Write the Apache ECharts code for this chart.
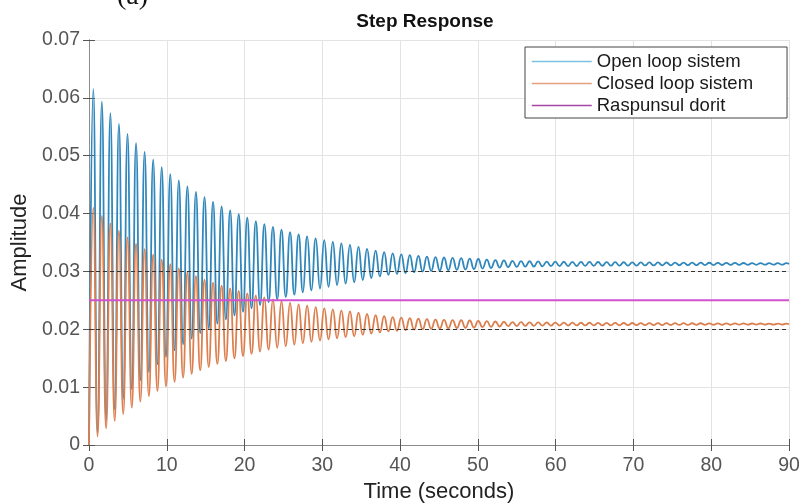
<!DOCTYPE html>
<html>
<head>
<meta charset="utf-8">
<script src="https://cdn.jsdelivr.net/npm/echarts@6/dist/echarts.min.js"></script>
<style>
html,body{margin:0;padding:0;background:#fff;}
#chart{width:802px;height:504px;}
</style>
</head>
<body>
<div id="chart"></div>
<script>
var timeSec = [0,
0.55,1.1,1.65,2.2,2.75,3.3,3.85,4.4,4.95,5.5,
6.05,6.6,7.15,7.7,8.25,8.8,9.35,9.9,10.45,11,
11.55,12.1,12.65,13.2,13.75,14.3,14.85,15.4,15.95,16.5,
17.05,17.6,18.15,18.7,19.25,19.8,20.35,20.9,21.45,22,
22.55,23.1,23.65,24.2,24.75,25.3,25.85,26.4,26.95,27.5,
28.05,28.6,29.15,29.7,30.25,30.8,31.35,31.9,32.45,33,
33.55,34.1,34.65,35.2,35.75,36.3,36.85,37.4,37.95,38.5,
39.05,39.6,40.15,40.7,41.25,41.8,42.35,42.9,43.45,44,
44.55,45.1,45.65,46.2,46.75,47.3,47.85,48.4,48.95,49.5,
50.05,50.6,51.15,51.7,52.25,52.8,53.35,53.9,54.45,55,
55.55,56.1,56.65,57.2,57.75,58.3,58.85,59.4,59.95,60.5,
61.05,61.6,62.15,62.7,63.25,63.8,64.35,64.9,65.45,66,
66.55,67.1,67.65,68.2,68.75,69.3,69.85,70.4,70.95,71.5,
72.05,72.6,73.15,73.7,74.25,74.8,75.35,75.9,76.45,77,
77.55,78.1,78.65,79.2,79.75,80.3,80.85,81.4,81.95,82.5,
83.05,83.6,84.15,84.7,85.25,85.8,86.35,86.9,87.45,88,
88.55,89.1,89.65,
90];

// Open loop sistem: amplitude at each time above
var openLoop = [0,
0.06150,0.00220,0.05935,0.00427,0.05735,0.00620,0.05549,0.00799,0.05377,0.00965,
0.05217,0.01119,0.05068,0.01262,0.04930,0.01396,0.04802,0.01519,0.04682,0.01634,
0.04572,0.01741,0.04469,0.01840,0.04373,0.01932,0.04285,0.02017,0.04202,0.02097,
0.04126,0.02170,0.04055,0.02239,0.03989,0.02302,0.03928,0.02361,0.03871,0.02416,
0.03818,0.02467,0.03769,0.02514,0.03723,0.02558,0.03681,0.02599,0.03642,0.02637,
0.03605,0.02672,0.03571,0.02705,0.03540,0.02735,0.03511,0.02763,0.03484,0.02789,
0.03458,0.02814,0.03426,0.02852,0.03391,0.02885,0.03360,0.02914,0.03332,0.02940,
0.03311,0.02957,0.03295,0.02972,0.03281,0.02986,0.03268,0.02998,0.03256,0.03010,
0.03247,0.03016,0.03241,0.03022,0.03235,0.03028,0.03229,0.03034,0.03223,0.03040,
0.03215,0.03050,0.03205,0.03059,0.03197,0.03067,0.03190,0.03074,0.03183,0.03080,
0.03179,0.03083,0.03176,0.03085,0.03174,0.03088,0.03171,0.03090,0.03169,0.03092,
0.03167,0.03093,0.03166,0.03094,0.03165,0.03096,0.03164,0.03097,0.03163,0.03098,
0.03161,0.03099,0.03160,0.03100,0.03159,0.03101,0.03158,0.03102,0.03157,0.03103,
0.03156,0.03104,0.03155,0.03105,0.03154,0.03106,0.03153,0.03107,0.03152,0.03108,
0.03151,0.03109,0.03151,0.03110,0.03150,0.03110,0.03149,0.03111,0.03148,0.03112,
0.03147,0.03113,0.03146,0.03114,0.03145,0.03115,0.03145,0.03116,0.03144,0.03117,
0.03143,0.03118,0.03142,
0.03130];

// Closed loop sistem: amplitude at each time above
var closedLoop = [0,
0.04104,0.00149,0.03961,0.00287,0.03828,0.00416,0.03703,0.00535,0.03589,0.00646,
0.03482,0.00749,0.03383,0.00844,0.03291,0.00933,0.03205,0.01015,0.03125,0.01092,
0.03052,0.01164,0.02983,0.01230,0.02919,0.01291,0.02860,0.01348,0.02805,0.01401,
0.02754,0.01450,0.02707,0.01496,0.02663,0.01538,0.02622,0.01577,0.02584,0.01614,
0.02549,0.01648,0.02516,0.01679,0.02486,0.01708,0.02458,0.01736,0.02432,0.01761,
0.02407,0.01785,0.02384,0.01807,0.02363,0.01827,0.02344,0.01845,0.02326,0.01863,
0.02309,0.01879,0.02287,0.01905,0.02264,0.01927,0.02243,0.01946,0.02225,0.01963,
0.02211,0.01975,0.02200,0.01985,0.02191,0.01994,0.02182,0.02002,0.02174,0.02010,
0.02168,0.02014,0.02164,0.02018,0.02160,0.02022,0.02156,0.02026,0.02152,0.02030,
0.02147,0.02037,0.02140,0.02043,0.02135,0.02048,0.02130,0.02053,0.02125,0.02057,
0.02123,0.02059,0.02121,0.02060,0.02119,0.02062,0.02117,0.02063,0.02116,0.02065,
0.02115,0.02065,0.02114,0.02066,0.02113,0.02067,0.02113,0.02068,0.02112,0.02069,
0.02111,0.02069,0.02110,0.02070,0.02109,0.02071,0.02109,0.02071,0.02108,0.02072,
0.02107,0.02073,0.02107,0.02073,0.02106,0.02074,0.02105,0.02075,0.02105,0.02075,
0.02104,0.02076,0.02104,0.02077,0.02103,0.02077,0.02103,0.02077,0.02102,0.02078,
0.02101,0.02079,0.02101,0.02079,0.02100,0.02080,0.02100,0.02081,0.02099,0.02081,
0.02099,0.02082,0.02098,
0.02090];

// Raspunsul dorit (desired response)
var desiredTime = [0, 90];
var desired = [0.025, 0.025];

// Steady-state (dotted) reference levels
var openSteady = 0.0313;
var closedSteady = 0.0209;

var seriesNames = ['Open loop sistem', 'Closed loop sistem', 'Raspunsul dorit'];
var yTickLabels = ['0', '0.01', '0.02', '0.03', '0.04', '0.05', '0.06', '0.07'];

function pairs(xs, ys) { return xs.map(function (x, i) { return [x, ys[i]]; }); }

var FONT = '"Liberation Sans", Arial, Helvetica, sans-serif';
var chart = echarts.init(document.getElementById('chart'), null, {renderer: 'canvas'});

var axisLineStyle = {color: '#8c8c8c', width: 1};
var tickStyle = {show: true, inside: true, length: 6, lineStyle: {color: '#555', width: 1}};
var hiddenSymbol = {opacity: 0};

chart.setOption({
  animation: false,
  backgroundColor: '#ffffff',
  title: {
    text: 'Step Response',
    left: 420, top: 7,
    textAlign: 'center',
    textStyle: {fontFamily: FONT, fontSize: 19, fontWeight: 'bold', color: '#111'}
  },
  graphic: [{
    type: 'text', left: 117, top: -17,
    style: {text: '(a)', font: '28px "Liberation Serif", "Times New Roman", serif', fill: '#111'}
  }],
  legend: {
    orient: 'vertical',
    left: 525, top: 47,
    padding: [5, 34, 3, 6],
    itemWidth: 60, itemHeight: 14, itemGap: 3,
    backgroundColor: '#fff',
    borderColor: '#444', borderWidth: 1,
    itemStyle: hiddenSymbol,
    textStyle: {fontFamily: FONT, fontSize: 18.5, color: '#1a1a1a'},
    data: [
      {name: seriesNames[0], itemStyle: hiddenSymbol, lineStyle: {color: '#7cc1e2', width: 1.5}},
      {name: seriesNames[1], itemStyle: hiddenSymbol, lineStyle: {color: '#e5a17f', width: 1.5}},
      {name: seriesNames[2], itemStyle: hiddenSymbol, lineStyle: {color: '#a448a4', width: 1.5}}
    ]
  },
  grid: {left: 89, right: 13, top: 40, bottom: 59, containLabel: false, outerBoundsMode: 'none'},
  xAxis: [{
    type: 'value', min: 0, max: 90, interval: 10, position: 'bottom',
    name: 'Time (seconds)', nameLocation: 'middle', nameGap: 33,
    nameTextStyle: {fontFamily: FONT, fontSize: 22, color: '#222'},
    axisLine: {show: true, lineStyle: axisLineStyle},
    axisTick: tickStyle,
    axisLabel: {fontFamily: FONT, fontSize: 19.5, color: '#555', margin: 11},
    splitLine: {show: true, lineStyle: {color: '#e3e3e3', width: 1}}
  }, {
    type: 'value', min: 0, max: 90, interval: 10, position: 'top',
    axisLine: {show: true, lineStyle: axisLineStyle},
    axisTick: tickStyle,
    axisLabel: {show: false},
    splitLine: {show: false}
  }],
  yAxis: [{
    type: 'value', min: 0, max: 0.07, interval: 0.01, position: 'left',
    name: 'Amplitude', nameLocation: 'middle', nameGap: 52,
    nameTextStyle: {fontFamily: FONT, fontSize: 22, color: '#222'},
    axisLine: {show: true, lineStyle: axisLineStyle},
    axisTick: tickStyle,
    axisLabel: {fontFamily: FONT, fontSize: 19.5, color: '#555', margin: 9,
      formatter: function (v) { return yTickLabels[Math.round(v * 100)]; }},
    splitLine: {show: true, lineStyle: {color: '#e3e3e3', width: 1}}
  }, {
    type: 'value', min: 0, max: 0.07, interval: 0.01, position: 'right',
    axisLine: {show: true, lineStyle: axisLineStyle},
    axisTick: tickStyle,
    axisLabel: {show: false},
    splitLine: {show: false}
  }],
  series: [{
    name: seriesNames[0], type: 'line', xAxisIndex: 0, yAxisIndex: 0,
    data: pairs(timeSec, openLoop),
    symbol: 'none', smooth: 0.5,
    lineStyle: {color: '#2f87bb', width: 1.8},
    itemStyle: {color: '#2f87bb'},
    markLine: {
      silent: true, symbol: 'none', label: {show: false},
      lineStyle: {color: '#333', type: [4, 3], width: 1},
      data: [{yAxis: openSteady}]
    },
    z: 2
  }, {
    name: seriesNames[1], type: 'line', xAxisIndex: 0, yAxisIndex: 0,
    data: pairs(timeSec, closedLoop),
    symbol: 'none', smooth: 0.5,
    lineStyle: {color: '#dc7f4f', width: 1.8},
    itemStyle: {color: '#dc7f4f'},
    markLine: {
      silent: true, symbol: 'none', label: {show: false},
      lineStyle: {color: '#333', type: [4, 3], width: 1},
      data: [{yAxis: closedSteady}]
    },
    z: 3
  }, {
    name: seriesNames[2], type: 'line', xAxisIndex: 0, yAxisIndex: 0,
    data: pairs(desiredTime, desired),
    symbol: 'none',
    lineStyle: {color: '#d052d0', width: 2},
    itemStyle: {color: '#d052d0'},
    z: 4
  }]
});
</script>
</body>
</html>
